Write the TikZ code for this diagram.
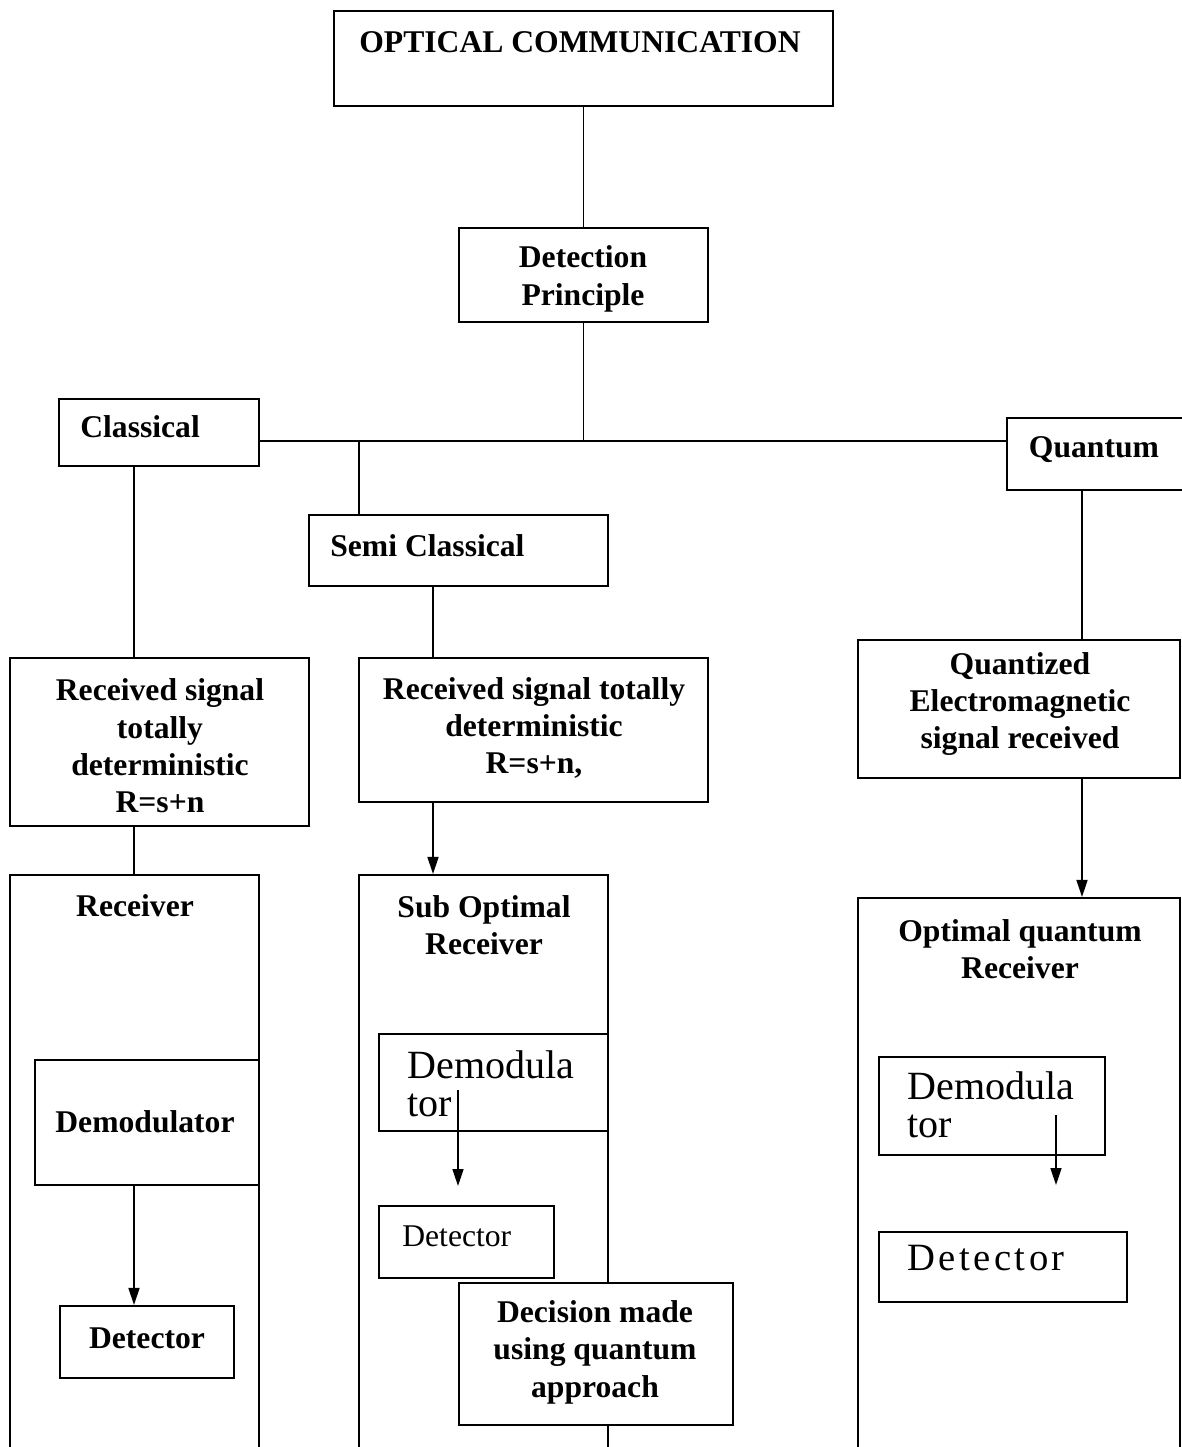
\documentclass[tikz,border=0pt]{standalone}
\usepackage{fontspec}
\setmainfont{Liberation Serif}
\newfontfamily\spacedserif[LetterSpace=9]{Liberation Serif}
\usetikzlibrary{arrows.meta,fit}
\tikzset{
	box/.style={draw, line width=1.2pt, inner sep=0pt},
	bold/.style={font=\fontsize{18}{21.3}\selectfont\bfseries, align=center, inner sep=0pt},
	plain/.style={font=\fontsize{22.8}{21.5}\selectfont, align=left, inner sep=0pt, anchor=west},
	link/.style={line width=0.9pt},
	flow/.style={link, -{Triangle[length=3.4mm,width=2.2mm]}}
}

\begin{document}
\begin{tikzpicture}[x=0.02cm, y=-0.02cm]
	\useasboundingbox (0,0) rectangle (1182,1447);
	
	\node[box, fit={(334,11) (833,106)}] (optcom) {};
	\node[bold] (optcomtxt) at (580,42) {OPTICAL COMMUNICATION};
	
	\node[box, fit={(459,228) (708,322)}] (detpr) {};
	\node[bold] (detprtxt) at (583,279) {Detection\\Principle};
	
	\node[box, fit={(59,399) (259,466)}] (classic) {};
	\node[bold, anchor=west] (classictxt) at (80,427) {Classical};
	
	\node[box, fit={(1007,418) (1190,490)}] (quant) {};
	\node[bold] (quanttxt) at (1094,450) {Quantum};
	
	\node[box, fit={(309,515) (608,586)}] (semicl) {};
	\node[bold, anchor=west] (semicltxt) at (330,546) {Semi Classical};
	
	\node[box, fit={(10,658) (309,826)}] (recsig) {};
	\node[bold] (recsigtxt) at (160,746) {Received signal\\totally\\deterministic\\R=s+n};
	
	\node[box, fit={(359,658) (708,802)}] (recsigb) {};
	\node[bold] (recsigbtxt) at (534,728) {Received signal totally\\deterministic\\R=s+n,};
	
	\node[box, fit={(858,640) (1180,778)}] (quantz) {};
	\node[bold] (quantztxt) at (1020,704) {Quantized\\Electromagnetic\\signal received};
	
	% receivers, open at the bottom
	\node[box, fit={(10,875) (259,1480)}] (recv) {};
	\node[bold] (recvtxt) at (135,906) {Receiver};
	
	\node[box, fit={(359,875) (608,1480)}] (subopt) {};
	\node[bold] (subopttxt) at (484,925) {Sub Optimal\\Receiver};
	
	\node[box, fit={(858,898) (1180,1480)}] (optq) {};
	\node[bold] (optqtxt) at (1020,949) {Optimal quantum\\Receiver};
	
	\node[box, fit={(35,1060) (259,1185)}] (demodA) {};
	\node[bold] (demodAtxt) at (145,1122) {Demodulator};
	
	\node[box, fit={(60,1306) (234,1378)}] (detA) {};
	\node[bold] (detAtxt) at (147,1338) {Detector};
	
	\node[box, fit={(379,1034) (608,1131)}] (demodB) {};
	\node[plain] (demodBtxt) at (407,1084) {Demodula\\tor};
	
	\node[box, fit={(379,1206) (554,1278)}] (detB) {};
	\node[plain, font=\fontsize{18}{21.3}\selectfont] (detBtxt) at (402,1236) {Detector};
	
	\node[box, fit={(459,1283) (733,1425)}, fill=white] (decide) {};
	\node[bold] (decidetxt) at (595,1352) {Decision made\\using quantum\\approach};
	
	\node[box, fit={(879,1057) (1105,1155)}] (demodC) {};
	\node[plain] (demodCtxt) at (907,1105) {Demodula\\tor};
	
	\node[box, fit={(879,1232) (1127,1302)}] (detC) {};
	\node[plain, font=\fontsize{22}{21.5}\selectfont\spacedserif] (detCtxt) at (907,1258) {Detector};
	
	\draw[link] (optcom.south) -- (detpr.north);
	\coordinate (split) at (583.5,441);
	\draw[link] (split |- detpr.south) -- (split);
	\draw[link] (classic.east |- split) -- (quant.west |- split);
	\coordinate (semisplit) at (359,441);
	\draw[link] (semisplit) -- (semisplit |- semicl.north);
	
	\coordinate (leftcol) at (134,0);
	\draw[link] (leftcol |- classic.south) -- (leftcol |- recsig.north);
	\draw[link] (leftcol |- recsig.south) -- (leftcol |- recv.north);
	\draw[flow] (leftcol |- demodA.south) -- (leftcol |- detA.north);
	
	\coordinate (midcol) at (433,0);
	\draw[link] (midcol |- semicl.south) -- (midcol |- recsigb.north);
	\draw[flow] (midcol |- recsigb.south) -- (midcol |- subopt.north);
	
	\coordinate (rightcol) at (1082,0);
	\draw[link] (rightcol |- quant.south) -- (rightcol |- quantz.north);
	\draw[flow] (rightcol |- quantz.south) -- (rightcol |- optq.north);
	
	\coordinate (demodBin) at (458,1090);
	\coordinate (demodBout) at (458,1186);
	\draw[flow] (demodBin) -- (demodBout);
	\coordinate (demodCin) at (1056,1115);
	\coordinate (demodCout) at (1056,1185);
	\draw[flow] (demodCin) -- (demodCout);
\end{tikzpicture}
\end{document}
